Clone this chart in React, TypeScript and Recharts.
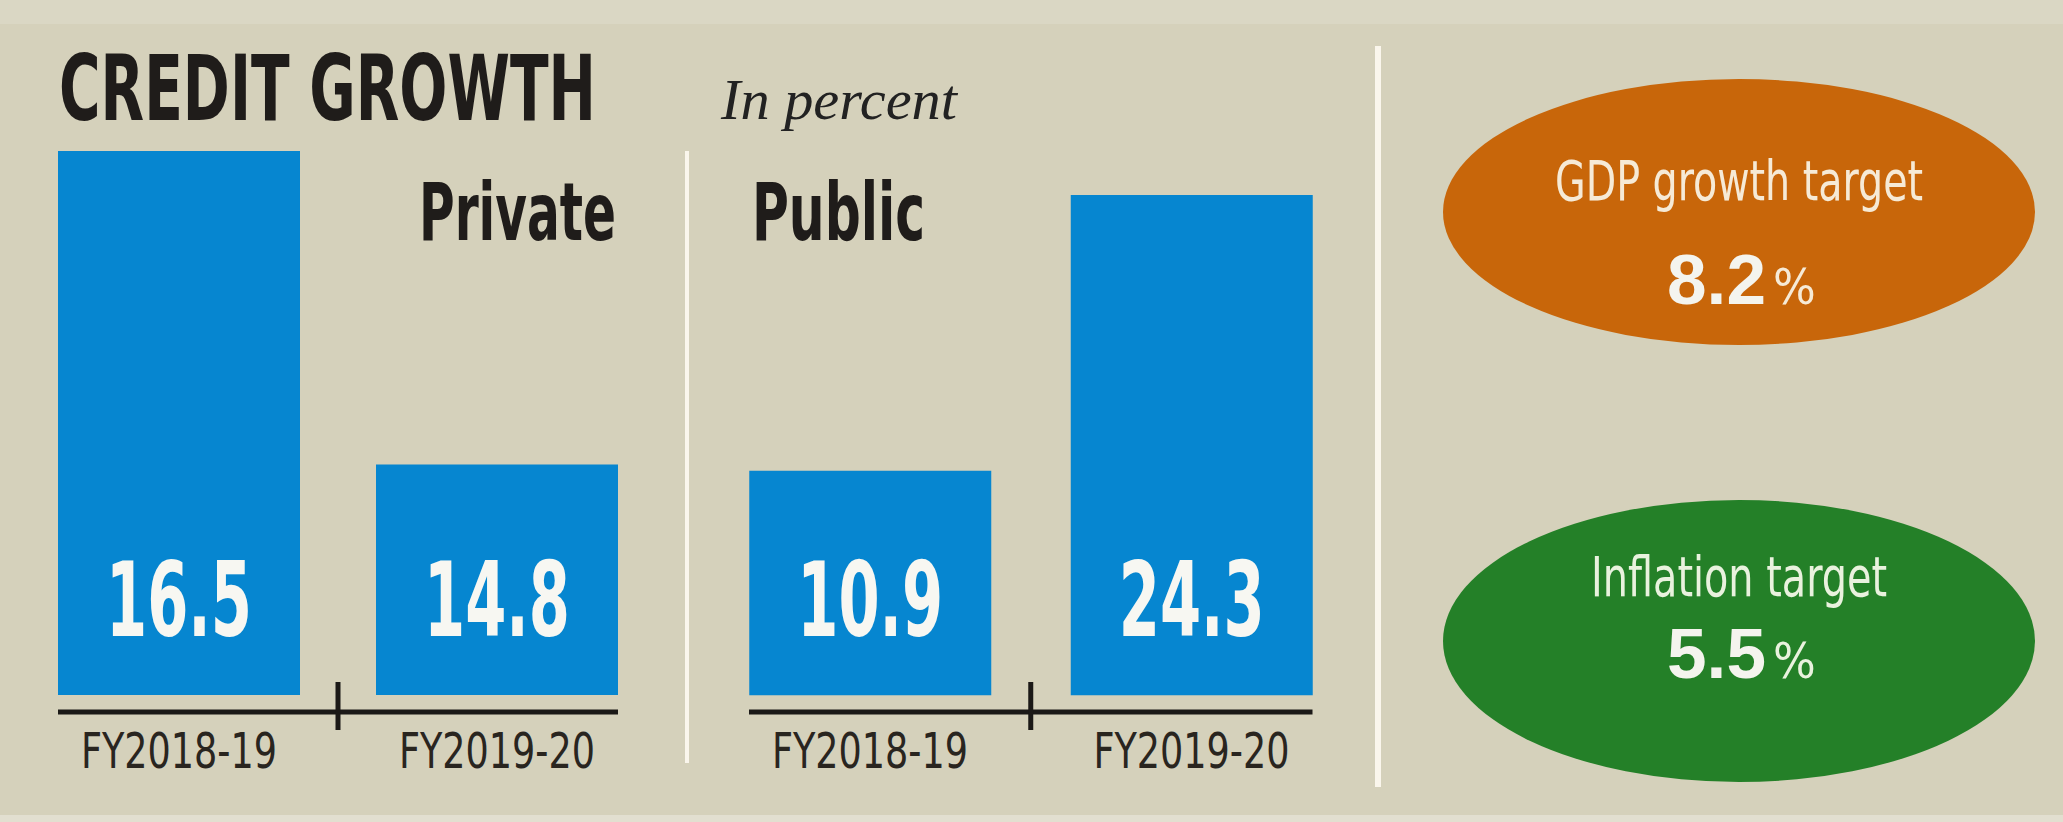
import { BarChart, Bar, XAxis, YAxis, LabelList } from 'recharts';

// values as printed on the graphic
const years = ['FY2018-19', 'FY2019-20'];
const privateCredit = [16.5, 14.8];
const publicCredit = [10.9, 24.3];
const targetNames = ['GDP growth target', 'Inflation target'];
const targetValues = [8.2, 5.5];

const privateData = years.map((year, i) => ({ year, value: privateCredit[i] }));
const publicData = years.map((year, i) => ({ year, value: publicCredit[i] }));

const BG = '#d5d1bb';
const BLUE = '#0686d0';
const INK = '#1f1c1a';
const NARROW = "'Liberation Sans Narrow', 'DejaVu Sans Condensed', 'DejaVu Sans', sans-serif";
const WIDE = "'Liberation Sans', 'Open Sans', sans-serif";
const SERIF = "'Liberation Serif', 'DejaVu Serif', serif";

// panel geometry (px)
const H = 822;
const BAR_W = 242;
const PRIV = { left: 0, width: 680, plotL: 20, plotR: 656 };
const PUB = { left: 680, width: 700, plotL: 709.25, plotR: 1352.25 };
const AXIS_Y = 712;

// condensed text: squeeze horizontally, then fit to the measured width
function Squeezed({ x, y, width, sx, anchor = 'start', children, ...rest }: any) {
  return (
    <text transform={`translate(${x},${y}) scale(${sx},1)`} textAnchor={anchor}
      textLength={width / sx} lengthAdjust="spacingAndGlyphs" {...rest}>
      {children}
    </text>
  );
}

const YearTick = (props: any) => {
  const { x, y, payload, drop } = props;
  return (
    <Squeezed x={x} y={y + drop} width={196} sx={0.75} anchor="middle" fill="#29251f"
      fontFamily={NARROW} fontSize={49}>
      {payload.value}
    </Squeezed>
  );
};

const ValueLabel = (props: any) => {
  const { x, y, width, height, value } = props;
  return (
    <Squeezed x={x + width / 2} y={y + height - 59} width={146} sx={0.6} anchor="middle" fill="#f7f7f2"
      fontFamily={NARROW} fontWeight={700} fontSize={104}>
      {value.toFixed(1)}
    </Squeezed>
  );
};

function Baseline({ plotL, plotR }: { plotL: number; plotR: number }) {
  const band = (plotR - plotL) / 2;
  const inset = (band - BAR_W) / 2;
  const mid = plotL + band;
  return (
    <g stroke="#1b1917" strokeWidth={5}>
      <line x1={plotL + inset} x2={plotR - inset} y1={AXIS_Y} y2={AXIS_Y} />
      <line x1={mid} x2={mid} y1={682} y2={730} />
    </g>
  );
}

function Target({ cx, cy, ry, fill, textFill, name, nameWidth, nameY, value, valueY }: any) {
  return (
    <g>
      <ellipse cx={cx} cy={cy} rx={296} ry={ry} fill={fill} />
      <Squeezed x={cx} y={nameY} width={nameWidth} sx={0.67} anchor="middle" fill={textFill}
        fontFamily={NARROW} fontSize={55}>
        {name}
      </Squeezed>
      <text x={cx + 27} y={valueY} textAnchor="end" fill="#f4f4ee" fontFamily={WIDE} fontWeight={700}
        fontSize={71} textLength={99} lengthAdjust="spacingAndGlyphs">
        {value.toFixed(1)}
      </text>
      <text x={cx + 34} y={valueY} fill={textFill} fontFamily={NARROW} fontSize={50}>%</text>
    </g>
  );
}

export default function App() {
  return (
    <div style={{ position: 'absolute', left: 0, top: 0, width: 2063, height: H, background: BG, overflow: 'hidden' }}>
      <div style={{ position: 'absolute', left: 0, top: 0, width: 2063, height: 24, background: '#dad7c4' }} />
      <div style={{ position: 'absolute', left: 0, top: H - 7, width: 2063, height: 7, background: '#e2dfd0' }} />

      <div style={{ position: 'absolute', left: PRIV.left, top: 0 }}>
        <BarChart width={PRIV.width} height={H} data={privateData}
          margin={{ top: 151, right: PRIV.left + PRIV.width - PRIV.plotR, bottom: 67, left: PRIV.plotL - PRIV.left }}>
          <XAxis dataKey="year" height={60} axisLine={false} tickLine={false} tickSize={0} tickMargin={0}
            interval={0} tick={<YearTick drop={73} />} />
          <YAxis hide domain={[13.55, 16.5]} allowDataOverflow />
          <Bar dataKey="value" fill={BLUE} barSize={BAR_W} isAnimationActive={false}>
            <LabelList dataKey="value" content={<ValueLabel />} />
          </Bar>
        </BarChart>
      </div>

      <div style={{ position: 'absolute', left: PUB.left, top: 0 }}>
        <BarChart width={PUB.width} height={H} data={publicData}
          margin={{ top: 195, right: PUB.left + PUB.width - PUB.plotR, bottom: 60, left: PUB.plotL - PUB.left }}>
          <XAxis dataKey="year" height={60} axisLine={false} tickLine={false} tickSize={0} tickMargin={0}
            interval={0} tick={<YearTick drop={66} />} />
          <YAxis hide domain={[-0.33, 24.3]} allowDataOverflow />
          <Bar dataKey="value" fill={BLUE} barSize={BAR_W} isAnimationActive={false}>
            <LabelList dataKey="value" content={<ValueLabel />} />
          </Bar>
        </BarChart>
      </div>

      <svg width={2063} height={H} style={{ position: 'absolute', left: 0, top: 0, pointerEvents: 'none' }}>
        <Squeezed x={59} y={120} width={537} sx={0.62} fill={INK} fontFamily={NARROW} fontWeight={700}
          fontSize={91}>CREDIT GROWTH</Squeezed>
        <Squeezed x={721} y={119} width={236} sx={0.85} fill="#222" fontFamily={SERIF} fontStyle="italic"
          fontSize={58}>In percent</Squeezed>
        <Squeezed x={616} y={240} width={197} sx={0.62} anchor="end" fill={INK} fontFamily={NARROW}
          fontWeight={700} fontSize={80}>Private</Squeezed>
        <Squeezed x={752} y={240} width={173} sx={0.62} fill={INK} fontFamily={NARROW} fontWeight={700}
          fontSize={80}>Public</Squeezed>

        <Baseline plotL={PRIV.plotL} plotR={PRIV.plotR} />
        <Baseline plotL={PUB.plotL} plotR={PUB.plotR} />

        <rect x={685} y={151} width={4} height={612} fill="#faf6ec" />
        <rect x={1375} y={46} width={6} height={741} fill="#faf6ec" />

        <Target cx={1739} cy={212} ry={133} fill="#c8660a" textFill="#f6ead6"
          name={targetNames[0]} nameWidth={368} nameY={200} value={targetValues[0]} valueY={304} />
        <Target cx={1739} cy={641} ry={141} fill="#248028" textFill="#e9f2de"
          name={targetNames[1]} nameWidth={296} nameY={596} value={targetValues[1]} valueY={678} />
      </svg>
    </div>
  );
}
